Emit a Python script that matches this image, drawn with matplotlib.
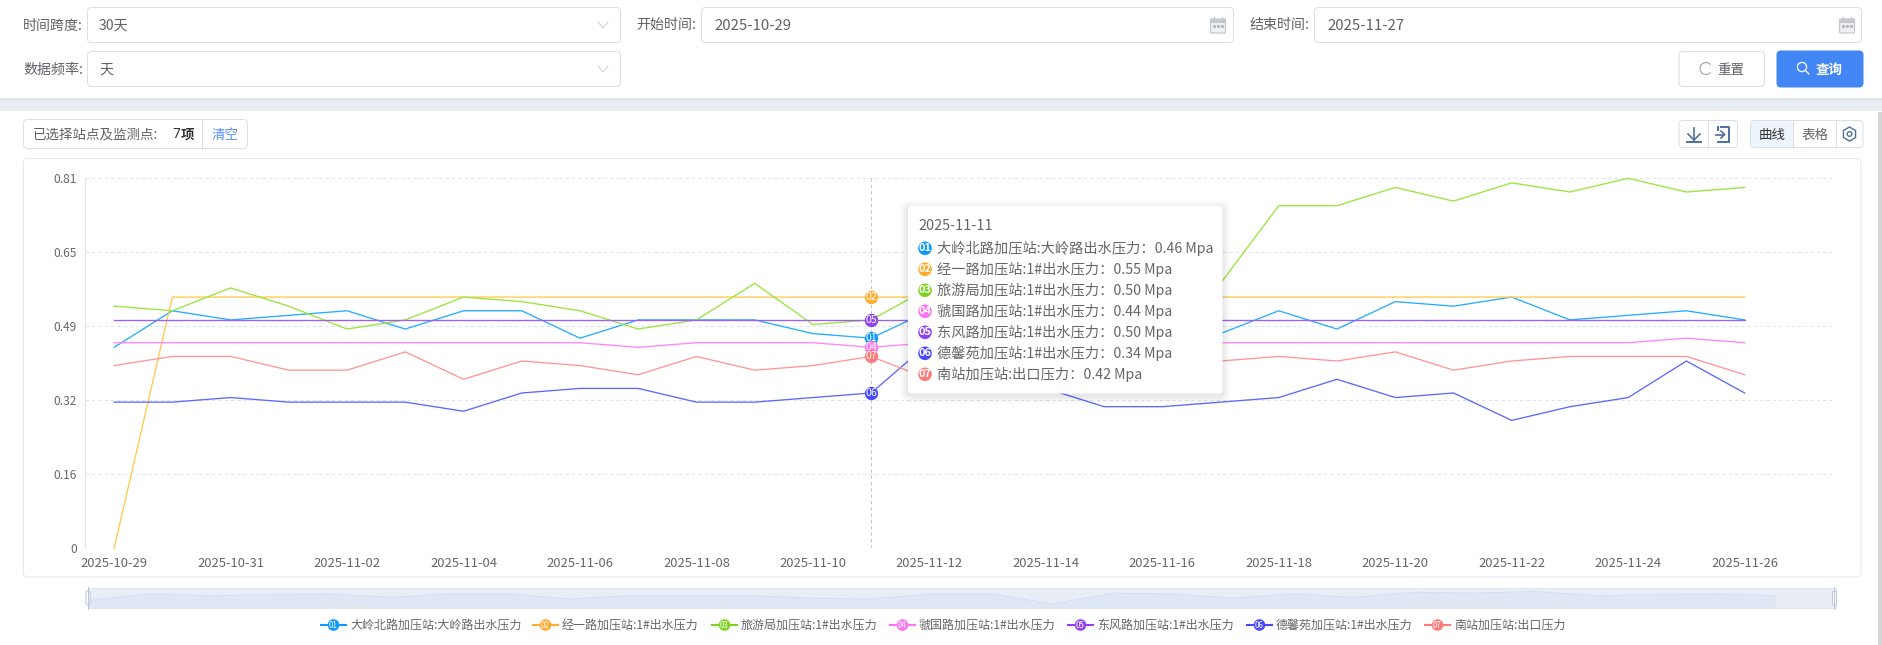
import numpy as np
import matplotlib
matplotlib.use("Agg")
import matplotlib.pyplot as plt
from matplotlib.patches import FancyBboxPatch, Rectangle, Circle, Arc, RegularPolygon

plt.rcParams['font.family'] = ['Noto Sans CJK SC', 'DejaVu Sans']

W, H = 1883, 645
PX = 0.72  # px -> pt at dpi 100

dates = ["2025-10-29", "2025-10-30", "2025-10-31", "2025-11-01", "2025-11-02", "2025-11-03",
         "2025-11-04", "2025-11-05", "2025-11-06", "2025-11-07", "2025-11-08", "2025-11-09",
         "2025-11-10", "2025-11-11", "2025-11-12", "2025-11-13", "2025-11-14", "2025-11-15",
         "2025-11-16", "2025-11-17", "2025-11-18", "2025-11-19", "2025-11-20", "2025-11-21",
         "2025-11-22", "2025-11-23", "2025-11-24", "2025-11-25", "2025-11-26", "2025-11-27"]

s01 = [.44, .52, .50, .51, .52, .48, .52, .52, .46, .50, .50, .50, .47, .46, .52, .52, .40, .53,
       .52, .47, .52, .48, .54, .53, .55, .50, .51, .52, .50]
s02 = [0, .55, .55, .55, .55, .55, .55, .55, .55, .55, .55, .55, .55, .55, .55, .55, .55, .55,
       .55, .55, .55, .55, .55, .55, .55, .55, .55, .55, .55]
s03 = [.53, .52, .57, .53, .48, .50, .55, .54, .52, .48, .50, .58, .49, .50, .57, .54, .52, .51,
       .53, .58, .75, .75, .79, .76, .80, .78, .81, .78, .79]
s04 = [.45, .45, .45, .45, .45, .45, .45, .45, .45, .44, .45, .45, .45, .44, .45, .45, .45, .45,
       .45, .45, .45, .45, .45, .45, .45, .45, .45, .46, .45]
s05 = [.50, .50, .50, .50, .50, .50, .50, .50, .50, .50, .50, .50, .50, .50, .50, .50, .50, .50,
       .50, .50, .50, .50, .50, .50, .50, .50, .50, .50, .50]
s06 = [.32, .32, .33, .32, .32, .32, .30, .34, .35, .35, .32, .32, .33, .34, .45, .40, .35, .31,
       .31, .32, .33, .37, .33, .34, .28, .31, .33, .41, .34]
s07 = [.40, .42, .42, .39, .39, .43, .37, .41, .40, .38, .42, .39, .40, .42, .37, .39, .41, .40,
       .41, .41, .42, .41, .43, .39, .41, .42, .42, .42, .38]
series = [s01, s02, s03, s04, s05, s06, s07]

names = ["大岭北路加压站:大岭路出水压力", "经一路加压站:1#出水压力", "旅游局加压站:1#出水压力",
         "虢国路加压站:1#出水压力", "东风路加压站:1#出水压力", "德馨苑加压站:1#出水压力",
         "南站加压站:出口压力"]
codes = ["01", "02", "03", "04", "05", "06", "07"]
colors = ["#0d99ff", "#ffab2e", "#7ed321", "#ff73f0", "#9043f5", "#4848ff", "#ff7a7a"]
line_colors = ["#25adff", "#ffc94f", "#98e63c", "#ff85fb", "#a05cf5", "#5c68ff", "#ff9696"]
yticks = [0, .16, .32, .49, .65, .81]
ytick_pos = [0, .162, .324, .486, .648, .81]
hover = 13
legend_x = [321, 533, 712, 890, 1068, 1247, 1425]

fig = plt.figure(figsize=(W / 100, H / 100), dpi=100, facecolor="white")


def overlay(z):
    a = fig.add_axes([0, 0, 1, 1], zorder=z)
    a.set_xlim(0, W)
    a.set_ylim(H, 0)
    a.axis("off")
    a.patch.set_alpha(0)
    return a


def box(a, x0, y0, x1, y1, fc="white", ec="#dcdfe6", r=4, lw=1.0, **kw):
    p = FancyBboxPatch((x0, y0), x1 - x0, y1 - y0, boxstyle=f"round,pad=0,rounding_size={r}",
                       fc=fc, ec=ec, lw=lw * PX, **kw)
    a.add_patch(p)
    return p


def txt(a, x, y, s, px=14, c="#606266", ha="left", **kw):
    return a.text(x, y, s, fontsize=px * PX, color=c, ha=ha, va="center", **kw)


def calendar(a, x, y):
    box(a, x - 7.5, y - 6, x + 7.5, y + 8, fc="#eef0f3", ec="#c4c7cc", r=1, lw=1.2)
    a.add_patch(Rectangle((x - 7.5, y - 6), 15, 4, fc="#c4c7cc", ec="none"))
    a.plot([x - 4, x - 4], [y - 8.5, y - 5], color="#c4c7cc", lw=1)
    a.plot([x + 4, x + 4], [y - 8.5, y - 5], color="#c4c7cc", lw=1)
    a.plot([x - 4, x, x + 4], [y + 1, y + 1, y + 1], ls="none", marker="s", ms=1.2, color="#b5b8bd")


def chevron(a, x, y):
    a.plot([x - 5, x, x + 5], [y - 3, y + 3, y - 3], color="#c9ccd3", lw=0.7)


bg = overlay(0)
# page background bands
bg.add_patch(Rectangle((0, 98), W, 13, fc="#e9edf4", ec="none"))
for i, al in enumerate([.10, .07, .05, .03]):
    bg.add_patch(Rectangle((0, 98 + i), W, 1.2, fc="#9aa3b5", ec="none", alpha=al))
bg.add_patch(Rectangle((1878, 112), 5, H - 112, fc="#d4d4d4", ec="none"))

# filter row
txt(bg, 23, 26, "时间跨度:")
box(bg, 87.5, 7.5, 620.5, 42.5)
txt(bg, 99, 26, "30天")
chevron(bg, 603, 25)
txt(bg, 23, 70, "数据频率:")
box(bg, 87.5, 51.5, 620.5, 86.5)
txt(bg, 99, 70, "天")
chevron(bg, 603, 69)
txt(bg, 636, 25, "开始时间:")
box(bg, 701.5, 7.5, 1233.5, 42.5)
txt(bg, 714, 26, "2025-10-29", px=15)
calendar(bg, 1218, 25)
txt(bg, 1250, 25, "结束时间:")
box(bg, 1314.5, 7.5, 1861.5, 42.5)
txt(bg, 1327, 26, "2025-11-27", px=15)
calendar(bg, 1847, 25)

# buttons
box(bg, 1679, 51.5, 1764.5, 86.5)
bg.add_patch(Arc((1706, 68.5), 12, 12, theta1=40, theta2=320, color="#a8abb2", lw=0.9))
txt(bg, 1717, 70, "重置", px=13.5)
box(bg, 1777, 51, 1863, 87, fc="#4285f4", ec="#4285f4")
bg.add_patch(Circle((1802, 67), 4.6, fc="none", ec="white", lw=0.9))
bg.plot([1805.5, 1809], [70.5, 74], color="white", lw=0.9)
txt(bg, 1815.5, 70, "查询", px=13.5, c="white", fontweight="bold")

# toolbar
box(bg, 23.5, 119.5, 247.5, 148.5)
bg.plot([202.5, 202.5], [119.5, 148.5], color="#dcdfe6", lw=0.72)
txt(bg, 33, 135, "已选择站点及监测点:", px=13.5)
txt(bg, 172.5, 135, "7", px=13.5, c="#333333", fontweight="bold", family="Noto Sans")
txt(bg, 180.5, 135, "项", px=13.5, c="#333333", fontweight="bold")
txt(bg, 225, 135, "清空", px=13.5, c="#5b8ff9", ha="center")

box(bg, 1679, 120.5, 1737.5, 147.5)
bg.plot([1708.5, 1708.5], [120.5, 147.5], color="#dcdfe6", lw=0.72)
icon = "#4f6f9f"
bg.plot([1694, 1694], [128, 140], color=icon, lw=1.2)
bg.plot([1688, 1694, 1700], [134, 140, 134], color=icon, lw=1.2)
bg.plot([1687, 1701], [142, 142], color=icon, lw=1.4)
bg.plot([1721, 1729, 1729, 1718], [127, 127, 142, 142], color=icon, lw=1.4)
bg.plot([1718, 1718], [127, 130], color=icon, lw=1.4)
bg.plot([1716, 1724], [134.5, 134.5], color=icon, lw=1.2)
bg.plot([1721, 1724.5, 1721], [131, 134.5, 138], color=icon, lw=1.2)

box(bg, 1750.5, 120.5, 1863, 147.5)
box(bg, 1751, 121, 1793, 147, fc="#eef4fb", ec="none", r=3)
bg.plot([1793.5, 1793.5], [120.5, 147.5], color="#dcdfe6", lw=0.72)
bg.plot([1836.5, 1836.5], [120.5, 147.5], color="#dcdfe6", lw=0.72)
txt(bg, 1772, 135, "曲线", px=13.5, c="#303133", ha="center")
txt(bg, 1815, 135, "表格", px=13.5, ha="center")
bg.add_patch(RegularPolygon((1849.5, 134), 6, radius=7, fc="none", ec=icon, lw=1.0))
bg.add_patch(Circle((1849.5, 134), 2.3, fc="none", ec=icon, lw=1.0))

# chart card
box(bg, 23.5, 158.5, 1861, 577, ec="#e4e7ed")

# main chart
L, R, T, B = 85, 1832, 178.3, 548.3
ax = fig.add_axes([L / W, 1 - B / H, (R - L) / W, (B - T) / H], zorder=2)
ax.patch.set_alpha(0)
x = np.arange(len(s01))
ax.set_xlim(-0.5, len(dates) - 0.5)
ax.set_ylim(0, .81)
for sp in ["top", "right", "bottom"]:
    ax.spines[sp].set_visible(False)
ax.spines["left"].set_color("#e0e3ea")
ax.spines["left"].set_linewidth(0.8)
ax.set_yticks(ytick_pos)
ax.set_yticklabels([str(v) for v in yticks], fontsize=12 * PX, color="#666666")
ax.set_xticks(range(0, len(dates) - 1, 2))
ax.set_xticklabels(dates[0:len(dates) - 1:2], fontsize=13 * PX, color="#666666")
ax.tick_params(length=0, axis="y", pad=6)
ax.tick_params(length=0, axis="x", pad=6)
ax.grid(axis="y", color="#e0e3ea", lw=0.7, ls=(0, (3.5, 3)))
ax.set_axisbelow(True)
ax.axvline(hover, color="#c4c4cc", lw=0.7, ls=(0, (3.5, 3)), zorder=1.5)

for i, s in enumerate(series):
    ax.plot(x, s, color=line_colors[i], lw=0.95, zorder=2 + i * .01, clip_on=False)
for i, s in enumerate(series):
    ax.plot(hover, s[hover], "o", ms=13.3 * PX, mfc=colors[i], mec="none", zorder=3 + i * .1, clip_on=False)
    ax.text(hover, s[hover], codes[i], color="white", fontsize=10.5 * PX, ha="center", va="center",
            zorder=3.05 + i * .1)

fg = overlay(5)
# tooltip
for grow, al in [(8, .015), (6, .02), (4, .025), (2, .03)]:
    box(fg, 908 - grow, 206 - grow + 2, 1222.5 + grow, 393.5 + grow + 2, fc="#000000", ec="none", r=4 + grow, alpha=al)
box(fg, 908, 206, 1222.5, 393.5, ec="none")
txt(fg, 918, 226, dates[hover], px=14.5, c="#666666")
for i, s in enumerate(series):
    yy = 248.3 + 21 * i
    fg.add_patch(Circle((925, yy), 6.8, fc=colors[i], ec="none"))
    txt(fg, 925, yy, codes[i], px=11, c="white", ha="center", fontweight="bold")
    txt(fg, 937.3, yy, f"{names[i]}：{s[hover]:.2f} Mpa", px=14.2, c="#666666")

# data zoom slider, shows the first series
sl, sr, st, sb = 88, 1836, 588, 608
bg.add_patch(Rectangle((sl, st), sr - sl, sb - st, fc="#e9eef6", ec="#dfe5ee", lw=0.6))
mini = fig.add_axes([sl / W, 1 - sb / H, (sr - sl) / W, (sb - st) / H], zorder=1)
mini.axis("off")
mini.set_xlim(0, 29)
mini.set_ylim(.352, .592)
mini.fill_between(x, s01, .352, color="#dfe6f4", lw=0)
mini.plot(x, s01, color="#d3dff7", lw=0.8)
for hx in [sl, 1834.5]:
    fg.plot([hx, hx], [587, 609], color="#b9c4dc", lw=0.7)
    box(fg, hx - 2, 591, hx + 2, 605, fc="white", ec="#b9c4dc", r=1.5)

# legend
for i, lx in enumerate(legend_x):
    fg.plot([lx, lx + 25], [625, 625], color=colors[i], lw=1.5)
    fg.add_patch(Circle((lx + 12.5, 625), 5.8, fc=colors[i], ec="none"))
    txt(fg, lx + 12.5, 625, codes[i], px=8, c="white", ha="center")
    txt(fg, lx + 29, 625, names[i], px=12, c="#666666")

fig.savefig("out.png", dpi=100)
